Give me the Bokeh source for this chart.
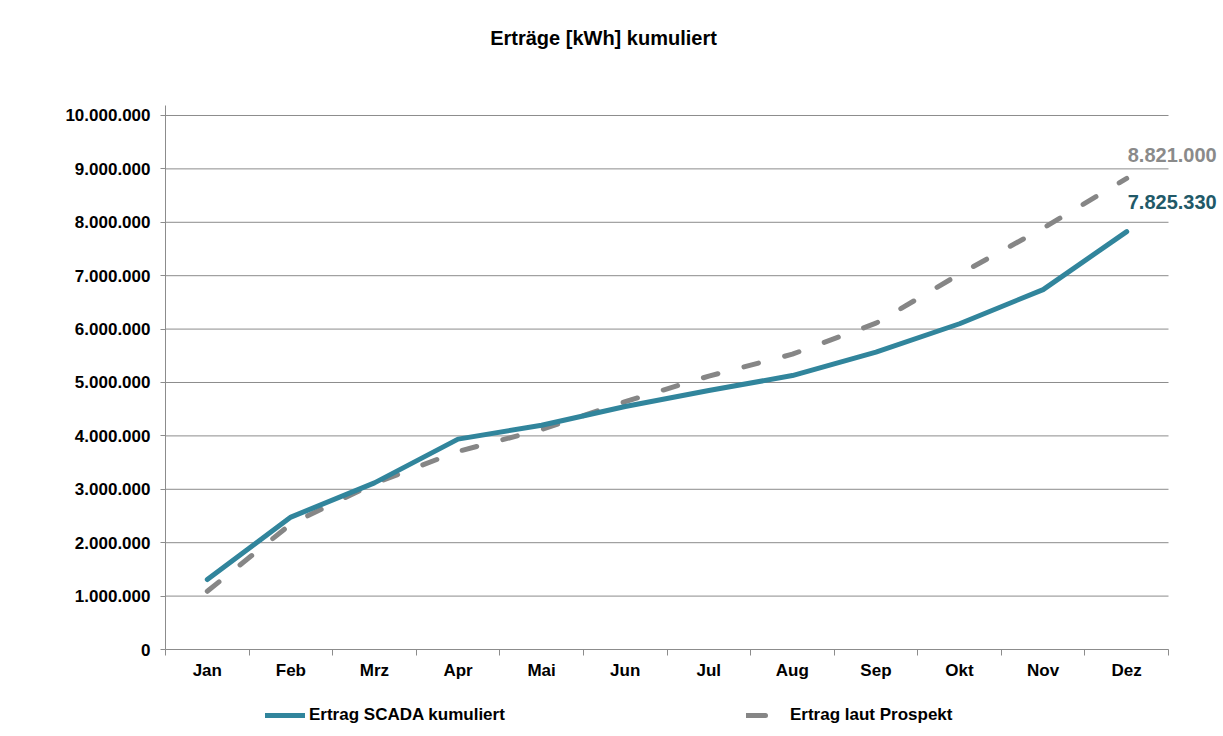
from bokeh.plotting import figure
from bokeh.layouts import column
from bokeh.models import (Range1d, FixedTicker, Legend, LegendItem, LabelSet,
                          ColumnDataSource, Label)
from bokeh.core.properties import value
from bokeh.embed import file_html
from bokeh.resources import INLINE

months = ["Jan", "Feb", "Mrz", "Apr", "Mai", "Jun", "Jul", "Aug", "Sep", "Okt", "Nov", "Dez"]
scada = [1310000, 2480000, 3120000, 3940000, 4200000, 4550000, 4850000, 5130000,
         5570000, 6100000, 6740000, 7825330]
prospekt = [1090000, 2350000, 3110000, 3710000, 4120000, 4640000, 5120000, 5530000,
            6110000, 7030000, 7890000, 8821000]
y_ticks = [0, 1000000, 2000000, 3000000, 4000000, 5000000, 6000000, 7000000,
           8000000, 9000000, 10000000]
title_text = "Erträge [kWh] kumuliert"
label_scada = "Ertrag SCADA kumuliert"
label_prospekt = "Ertrag laut Prospekt"


def de(v):
    return f"{int(round(v)):,}".replace(",", ".")


FONT = "Liberation Sans"
GRID = "#8c8c8c"
TEAL = "#31859C"
GRAY = "#868686"

n = len(months)
x = [i + 0.5 for i in range(n)]
src = ColumnDataSource(dict(x=x, scada=scada, prospekt=prospekt))


def strip(height):
    f = figure(width=1223, height=height, output_backend="svg", toolbar_location=None,
               x_range=Range1d(0, 1), y_range=Range1d(-2, -1),
               min_border_left=165, min_border_right=0, min_border_top=0,
               min_border_bottom=0)
    f.axis.visible = False
    f.grid.visible = False
    f.outline_line_color = None
    f.background_fill_color = "white"
    f.border_fill_color = "white"
    return f


# ---- title strip
t = strip(60)
t.add_layout(Label(x=438, y=23, x_units="screen", y_units="screen",
                   text=title_text, text_align="center", text_baseline="middle",
                   text_font=FONT, text_font_style="bold", text_font_size="20px",
                   text_color="black"))

# ---- main chart
p = figure(width=1223, height=630, output_backend="svg", toolbar_location=None,
           x_range=Range1d(0, n + 0.658), y_range=Range1d(0, 10187000),
           min_border_left=165, min_border_right=0, min_border_top=45,
           min_border_bottom=41)
p.outline_line_color = None
p.background_fill_color = "white"
p.border_fill_color = "white"

# grid lines drawn from tick values, ending at the last category boundary
p.xgrid.visible = False
p.ygrid.visible = False
gsrc = ColumnDataSource(dict(y=y_ticks, x0=[0] * len(y_ticks), x1=[n] * len(y_ticks)))
p.segment(x0="x0", x1="x1", y0="y", y1="y", source=gsrc, line_color=GRID, line_width=1)

# y axis
ya = p.yaxis[0]
ya.ticker = FixedTicker(ticks=y_ticks)
ya.major_label_overrides = {float(tk): de(tk) for tk in y_ticks}
ya.axis_line_color = GRID
ya.major_tick_line_color = GRID
ya.major_tick_out = 5
ya.major_tick_in = 0
ya.minor_tick_line_color = None
ya.major_label_standoff = 10
ya.major_label_text_font = FONT
ya.major_label_text_font_style = "bold"
ya.major_label_text_font_size = "17px"
ya.major_label_text_color = "black"

# x axis: labels at centers, ticks at category boundaries
xa = p.xaxis[0]
xa.bounds = (0, n)
xa.ticker = FixedTicker(ticks=x, minor_ticks=list(range(n + 1)))
xa.major_label_overrides = {float(xi): m for xi, m in zip(x, months)}
xa.axis_line_color = GRID
xa.major_tick_line_color = None
xa.major_tick_out = 0
xa.major_tick_in = 0
xa.minor_tick_line_color = GRID
xa.minor_tick_out = 6
xa.minor_tick_in = 0
xa.major_label_standoff = 5
xa.major_label_text_font = FONT
xa.major_label_text_font_style = "bold"
xa.major_label_text_font_size = "17px"
xa.major_label_text_color = "black"

r2 = p.line("x", "prospekt", source=src, line_color=GRAY, line_width=5,
            line_dash="15 27", line_cap="round", line_join="round")
r1 = p.line("x", "scada", source=src, line_color=TEAL, line_width=5,
            line_cap="round", line_join="round")

# end labels
end_src = ColumnDataSource(dict(
    x=[x[-1], x[-1]],
    y=[prospekt[-1], scada[-1]],
    text=[de(prospekt[-1]), de(scada[-1])],
    color=["#8a8a8a", "#215968"],
    yoff=[23, 30],
))
p.add_layout(LabelSet(x="x", y="y", text="text", source=end_src,
                      text_color="color", y_offset="yoff", x_offset=1,
                      text_align="left", text_baseline="middle",
                      text_font=value(FONT), text_font_style=value("bold"),
                      text_font_size=value("20px")))

# ---- legend strip below the chart (series lines lie outside its view)
q = strip(46)
k1 = q.line("x", "scada", source=src, line_color=TEAL, line_width=5, line_cap="round")
k2 = q.line("x", "prospekt", source=src, line_color=GRAY, line_width=5,
            line_dash="19 40", line_cap="round")

legend = Legend(items=[LegendItem(label=label_scada, renderers=[k1]),
                       LegendItem(label=label_prospekt, renderers=[k2])],
                orientation="horizontal", location=(100, 11),
                glyph_width=40, glyph_height=20, label_standoff=4,
                label_width=437, spacing=0, padding=0, margin=0,
                border_line_color=None, background_fill_alpha=0,
                label_text_font=FONT, label_text_font_style="bold",
                label_text_font_size="17px", label_text_color="black")
q.add_layout(legend)

layout = column(t, p, q, spacing=0)
open("out.html", "w").write(file_html(layout, INLINE))
